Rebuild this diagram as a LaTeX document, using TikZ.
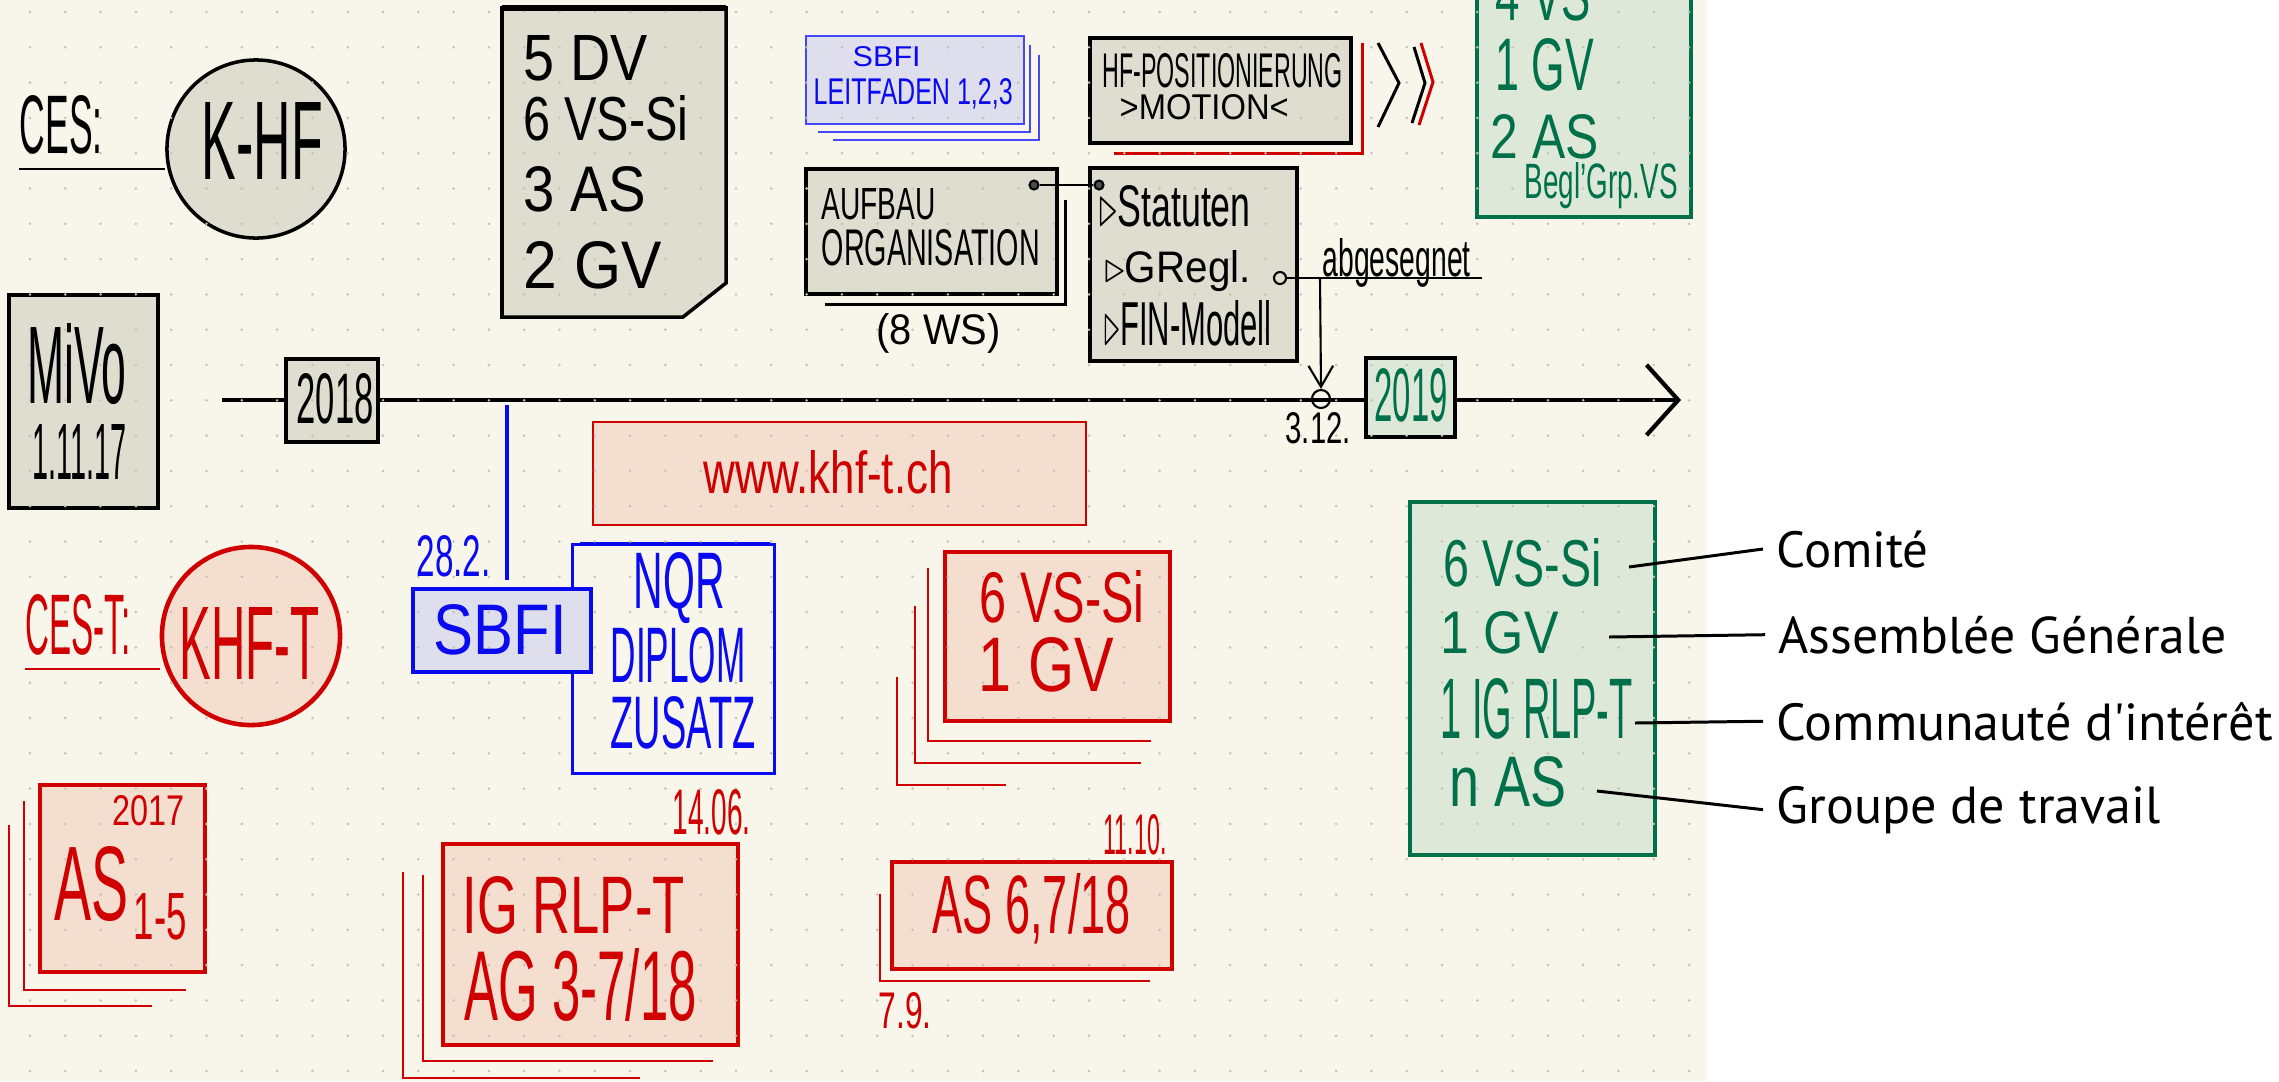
\documentclass[tikz,border=0pt]{standalone}
\usepackage{fontspec}
\usepackage{graphicx}
\setmainfont{Liberation Sans}
\newfontfamily\labfont{PT Sans}
\usetikzlibrary{arrows.meta}

\definecolor{paper}{RGB}{248,246,234}
\definecolor{dotgrey}{RGB}{196,194,180}
\definecolor{boxgrey}{RGB}{222,221,208}
\definecolor{inkred}{RGB}{208,0,0}
\definecolor{fillred}{RGB}{243,222,208}
\definecolor{inkblue}{RGB}{10,10,240}
\definecolor{fillblue}{RGB}{222,222,236}
\definecolor{inkgreen}{RGB}{0,112,74}
\definecolor{fillgreen}{RGB}{221,232,216}

% one unit = one pixel of the sketch
\newlength\pxu
\setlength\pxu{0.01cm}
\newcommand\hw[3]{\resizebox{#1\pxu}{#2\pxu}{#3}}

\begin{document}
\begin{tikzpicture}[
    x=0.01cm, y=-0.01cm,
    tx/.style={inner sep=0pt, anchor=south west},
    lab/.style={inner ysep=0pt, inner xsep=0.13cm, anchor=base west, font=\labfont},
    greybox/.style={draw=black, line width=1pt, fill=boxgrey},
    redbox/.style={draw=inkred, line width=0.9pt, fill=fillred},
    redstack/.style={draw=inkred, line width=0.7pt},
    bluestack/.style={draw=inkblue!75, line width=0.6pt},
    ring/.style={circle, draw, line width=0.6pt, inner sep=0pt},
    leader/.style={line width=0.85pt},
]
\useasboundingbox (0,0) rectangle (2279,1081);
\clip (0,0) rectangle (2279,1081);
\fill[white] (0,0) rectangle (2279,1081);
\fill[paper] (0,0) rectangle (1707,1081);

% timeline
\coordinate (tlstart) at (222,400);
\coordinate (tlend) at (1681,400);
\draw[line width=1.2pt, -{Straight Barb[length=9pt,width=20pt]}] (tlstart) -- (tlend);
\draw[greybox] (286,359) rectangle (378,442);
\draw[draw=black, line width=1pt, fill=fillgreen] (1366,358) rectangle (1455,437);

% CES / K-HF
\node[circle, greybox, minimum size=1.78cm] (khf) at (256,149) {};
\coordinate (cesu) at (19,169);
\draw[line width=0.7pt] (cesu) -- (cesu -| khf.west);

% members box
\draw[greybox] (502,8) -- (726,8) -- (726,283) -- (683,317) -- (502,317) -- cycle;
\draw[line width=1.5pt] (502,8) -- (726,8);

% MiVo
\draw[greybox] (9,295) rectangle (158,508);

% SBFI Leitfaden stack
\draw[bluestack] (1039,55) |- (833,140);
\draw[bluestack] (1030,45) |- (818,132);
\draw[bluestack, fill=fillblue] (806,36) rectangle (1024,124);

% HF-Positionierung
\draw[redstack, line width=0.85pt] (1362,43) |- (1114,153);
\draw[greybox] (1090,38) rectangle (1351,143);
\draw[line width=0.85pt] (1378,43) -- (1399,83) -- (1378,127);
\draw[line width=0.85pt] (1414,47) -- (1425,83) -- (1412,123);
\draw[draw=inkred, line width=0.85pt] (1421,43) -- (1433,82) -- (1419,125);

% Aufbau / Statuten
\draw[line width=0.85pt] (1065,200) |- (825,304);
\draw[greybox] (806,169) rectangle (1057,294);
\draw[greybox] (1090,168) rectangle (1297,361);
\node[ring, fill=black!70, minimum size=0.09cm] (pa) at (1034,185) {};
\node[ring, fill=black!70, minimum size=0.09cm] (pb) at (1099,185) {};
\draw[line width=0.7pt] (pa) -- (pb);

% abgesegnet
\node[ring, minimum size=0.12cm] (pc) at (1280,278) {};
\coordinate (abgend) at (1482,278);
\coordinate (abgdrop) at (1320,278);
\draw[line width=0.7pt] (pc) -- (abgend);
\node[ring, minimum size=0.18cm] (tlring) at (1321,399) {};
\draw[line width=0.6pt, -{Straight Barb[length=6pt,width=7pt]}] (abgdrop) -- (tlring.north);

% top right green box
\draw[draw=inkgreen, line width=0.9pt, fill=fillgreen] (1477,-20) rectangle (1691,217);

% www
\draw[draw=inkred, line width=0.6pt, fill=fillred] (593,422) rectangle (1086,525);

% CES-T / KHF-T
\node[circle, draw=inkred, line width=1.3pt, fill=fillred, minimum size=1.78cm] (khft) at (251,636) {};
\coordinate (cestu) at (25,669);
\draw[draw=inkred, line width=0.7pt] (cestu) -- (cestu -| khft.west);

% SBFI / NQR
\coordinate (sbfidrop) at (507,405);
\coordinate (sbfitop) at (507,580);
\draw[draw=inkblue, line width=1.2pt] (sbfidrop) -- (sbfitop);
\draw[draw=inkblue, line width=0.85pt] (572,544) rectangle (774,773);
\draw[draw=inkblue, line width=1.4pt] (580,544) -- (770,544);
\draw[draw=inkblue, line width=1.4pt, fill=fillblue] (413,589) rectangle (591,672);

% red stacks
\draw[redstack] (9,825) |- (152,1006);
\draw[redstack] (24,801) |- (186,990);
\draw[redbox] (40,785) rectangle (205,972);
\draw[redstack] (403,872) |- (640,1078);
\draw[redstack] (423,875) |- (713,1061);
\draw[redbox] (443,844) rectangle (738,1045);
\draw[redstack] (897,677) |- (1006,785);
\draw[redstack] (915,606) |- (1141,763);
\draw[redstack] (928,568) |- (1151,741);
\draw[redbox] (945,552) rectangle (1170,721);
\draw[redstack] (880,894) |- (1150,981);
\draw[redbox] (892,862) rectangle (1172,969);

% green box
\draw[draw=inkgreen, line width=1pt, fill=fillgreen] (1410,502) rectangle (1655,855);

% dot grid
\foreach \i in {0,...,47} {
  \foreach \j in {0,...,30} {
    \fill[dotgrey] ({30+35.3*\i},{12+35.3*\j}) circle (1.4);
  }
}

% black writing
\node[tx] (ces) at (19,155) {\hw{83}{58}{CES:}};
\node[tx] (khftxt) at (201,180) {\hw{121}{77}{K-HF}};
\node[tx] (dv1) at (523,82) {\hw{124}{45}{5 DV}};
\node[tx] (dv2) at (523,142) {\hw{165}{45}{6 VS-Si}};
\node[tx] (dv3) at (523,213) {\hw{122}{45}{3 AS}};
\node[tx] (dv4) at (523,290) {\hw{138}{47}{2 GV}};
\node[tx] (mivo) at (27,405) {\hw{99}{80}{MiVo}};
\node[tx] (mivod) at (32,480) {\hw{94}{55}{1.11.17}};
\node[tx] (y18) at (296,425) {\hw{77}{50}{2018}};
\node[tx] (aufbau) at (821,221) {\hw{114}{31}{AUFBAU}};
\node[tx] (orga) at (821,267) {\hw{218}{36}{ORGANISATION}};
\node[tx, anchor=base west] (ws) at (876,344) {\hw{124}{31}{(8 WS)}};
\node[tx] (hfpos) at (1102,89) {\hw{240}{34}{HF-POSITIONIERUNG}};
\node[tx] (motion) at (1119,121) {\hw{169}{25}{>MOTION<}};
\node[tx] (stat) at (1099,228) {\hw{151}{41}{$\triangleright$Statuten}};
\node[tx, anchor=base west] (gregl) at (1104,282) {\hw{146}{32}{$\triangleright$GRegl.}};
\node[tx] (finm) at (1104,347) {\hw{167}{45}{$\triangleright$FIN-Modell}};
\node[tx, anchor=base west] (abg) at (1322,276) {\hw{148}{38}{abgesegnet}};
\node[tx] (d312) at (1285,445) {\hw{65}{31}{3.12.}};

% blue writing
\begin{scope}[color=inkblue]
\node[tx] (d282) at (416,578) {\hw{74}{41}{28.2.}};
\node[tx] (sbfi) at (433,656) {\hw{133}{50}{SBFI}};
\node[tx] (nqr) at (633,624) {\hw{91}{56}{NQR}};
\node[tx] (diplom) at (610,684) {\hw{135}{55}{DIPLOM}};
\node[tx] (zusatz) at (610,750) {\hw{145}{52}{ZUSATZ}};
\node[tx] (sbfis) at (852,67) {\hw{68}{20}{SBFI}};
\node[tx] (leit) at (813,110) {\hw{199}{26}{LEITFADEN 1,2,3}};
\end{scope}

% red writing
\begin{scope}[color=inkred]
\node[tx] (cest) at (25,656) {\hw{105}{60}{CES-T:}};
\node[tx] (khfttxt) at (179,680) {\hw{140}{72}{KHF-T}};
\node[tx, anchor=base west] (www) at (703,493) {\hw{249}{43}{www.khf-t.ch}};
\node[tx] (r6vs) at (979,624) {\hw{165}{52}{6 VS-Si}};
\node[tx] (r1gv) at (978,693) {\hw{135}{54}{1 GV}};
\node[tx] (y17) at (112,827) {\hw{72}{30}{2017}};
\node[tx] (as) at (54,922) {\hw{74}{74}{AS}};
\node[tx] (assub) at (133,941) {\hw{53}{46}{1-5}};
\node[tx] (igrlp) at (462,935) {\hw{222}{57}{IG RLP-T}};
\node[tx] (ag) at (464,1022) {\hw{232}{72}{AG 3-7/18}};
\node[tx] (d1406) at (672,836) {\hw{78}{45}{14.06.}};
\node[tx] (as67) at (932,945) {\hw{198}{60}{AS 6,7/18}};
\node[tx] (d1110) at (1103,856) {\hw{63}{40}{11.10.}};
\node[tx] (d79) at (878,1030) {\hw{53}{36}{7.9.}};
\end{scope}

% green writing
\begin{scope}[color=inkgreen]
\node[tx] (y19) at (1374,423) {\hw{73}{53}{2019}};
\node[tx] (g6vs) at (1443,588) {\hw{158}{48}{6 VS-Si}};
\node[tx] (g1gv) at (1440,655) {\hw{118}{42}{1 GV}};
\node[tx] (g1ig) at (1440,740) {\hw{192}{60}{1 IG RLP-T}};
\node[tx] (gnas) at (1449,808) {\hw{117}{50}{n AS}};
\node[tx] (t4vs) at (1495,22) {\hw{95}{50}{4 VS}};
\node[tx] (t1gv) at (1495,92) {\hw{98}{52}{1 GV}};
\node[tx] (t2as) at (1490,160) {\hw{108}{44}{2 AS}};
\node[tx, anchor=base west] (tbegl) at (1524,198) {\hw{153}{36}{Begl'Grp.VS}};
\end{scope}

% legend
\node[lab] (lcom) at (1763,567) {\resizebox{152\pxu}{!}{Comité}};
\node[lab] (lag) at (1765,653) {\resizebox{448\pxu}{!}{Assemblée Générale}};
\node[lab] (lci) at (1763,740) {\resizebox{496\pxu}{!}{Communauté d'intérêt}};
\node[lab] (lgt) at (1763,823) {\resizebox{384\pxu}{!}{Groupe de travail}};
\coordinate (kcom) at (1629,567);
\coordinate (kag) at (1609,637);
\coordinate (kci) at (1635,723);
\coordinate (kgt) at (1597,791);
\draw[leader] (kcom) -- (lcom.west);
\draw[leader] (kag) -- (lag.west);
\draw[leader] (kci) -- (lci.west);
\draw[leader] (kgt) -- (lgt.west);
\end{tikzpicture}
\end{document}
